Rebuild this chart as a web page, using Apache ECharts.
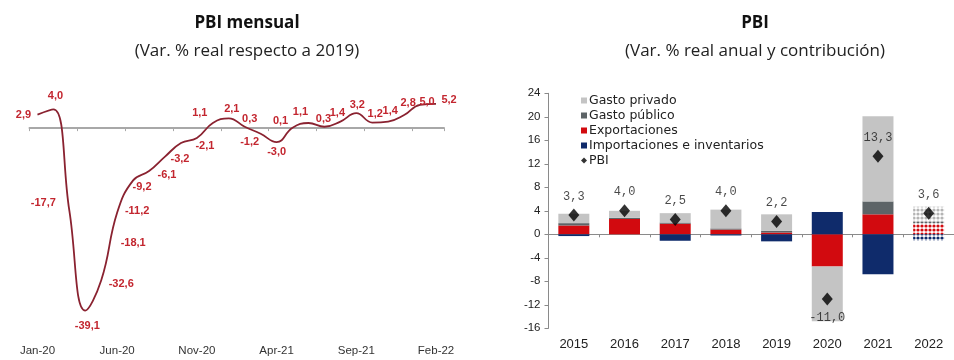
<!DOCTYPE html>
<html>
<head>
<meta charset="utf-8">
<script src="https://cdn.jsdelivr.net/npm/echarts@6/dist/echarts.min.js"></script>
<style>
  html, body { margin: 0; padding: 0; background: #fff; }
  #chart { width: 954px; height: 360px; }
</style>
</head>
<body>
<div id="chart"></div>
<script>
// ---- Monthly GDP, % change vs. same month of 2019 ----
const months = ['Jan-20','Feb-20','Mar-20','Apr-20','May-20','Jun-20','Jul-20','Aug-20','Sep-20','Oct-20','Nov-20','Dec-20',
                'Jan-21','Feb-21','Mar-21','Apr-21','May-21','Jun-21','Jul-21','Aug-21','Sep-21','Oct-21','Nov-21','Dec-21',
                'Jan-22','Feb-22'];
const pbiMensual = [2.9, 4.0, -17.7, -39.1, -32.6, -18.1, -11.2, -9.2, -6.1, -3.2, -2.1, 1.1,
                    2.1, 0.3, -1.2, -3.0, 0.1, 1.1, 0.3, 1.4, 3.2, 1.2, 1.4, 2.8,
                    5.0, 5.2];

// ---- Annual GDP and demand contributions ----
const years = ['2015','2016','2017','2018','2019','2020','2021','2022'];
const gastoPrivado   = [1.6, 1.2, 1.6, 3.2, 2.8, -9.3, 14.5, 2.6];
const gastoPublico   = [0.4, 0.2, 0.2, 0.2, 0.3, 0.0, 2.2, 0.3];
const exportaciones  = [1.5, 2.6, 1.8, 0.8, 0.3, -5.5, 3.4, 1.8];
const importaciones  = [-0.3, 0.0, -1.1, -0.2, -1.2, 3.8, -6.8, -1.1];
const pbiAnual       = [3.3, 4.0, 2.5, 4.0, 2.2, -11.0, 13.3, 3.6];
const yTicksRight = { min: -16, max: 24, step: 4 };
const projectedYear = '2022';

// Label placement for the monthly series (offset of each label from its point, px)
const labelOffsets = [[-14,0],[2,-13],[-26,-8],[2,15],[20,4],[16,30],[4,31],[-7,16],[2,18],[-1,16],[8,8],[-13,-10],
                      [3,-9],[5,-8],[-11,8],[0,10],[-12,-7],[-8,-11],[-1,-8],[-3,-9],[1,-8],[3,-9],[2,-11],[4,-12],
                      [7,-3],[13,-4]];

const fmt = v => v.toFixed(1).replace('.', ',');

// Dotted fill used for the projected year
function dotPattern(color) {
  const c = document.createElement('canvas');
  c.width = 4; c.height = 4;
  const g = c.getContext('2d');
  g.fillStyle = '#ffffff';
  g.fillRect(0, 0, 4, 4);
  g.fillStyle = color;
  g.beginPath();
  g.arc(2, 2, 1.6, 0, Math.PI * 2);
  g.fill();
  return { image: c, repeat: 'repeat' };
}

const COL = {
  privado: '#c4c4c4',
  publico: '#5d6467',
  export: '#d20a0f',
  import: '#0f2b6b',
  pbi: '#000000'
};

function barData(values, color) {
  return values.map((v, i) => years[i] === projectedYear
    ? { value: v, itemStyle: { color: dotPattern(color) } }
    : v);
}

const chart = echarts.init(document.getElementById('chart'), null, { renderer: 'canvas' });

const titleFont = '"Open Sans", "Noto Sans", sans-serif';

const option = {
  animation: false,
  backgroundColor: '#ffffff',
  graphic: [
    { type: 'text', x: 247, y: 23, style: { text: 'PBI mensual', font: 'bold 17px ' + titleFont, fill: '#111', align: 'center', verticalAlign: 'middle' } },
    { type: 'text', x: 247, y: 51, style: { text: '(Var. % real respecto a 2019)', font: '17px ' + titleFont, fill: '#222', align: 'center', verticalAlign: 'middle' } },
    { type: 'text', x: 755, y: 23, style: { text: 'PBI', font: 'bold 17px ' + titleFont, fill: '#111', align: 'center', verticalAlign: 'middle' } },
    { type: 'text', x: 755, y: 51, style: { text: '(Var. % real anual y contribución)', font: '17px ' + titleFont, fill: '#222', align: 'center', verticalAlign: 'middle' } }
  ],
  legend: {
    orient: 'vertical',
    left: 581,
    top: 93,
    itemWidth: 6,
    itemHeight: 6,
    itemGap: 0,
    padding: 0,
    textStyle: { fontFamily: '"DejaVu Sans", sans-serif', fontSize: 12.5, color: '#222', lineHeight: 15, padding: [0, 0, 0, -3] },
    data: [
      { name: 'Gasto privado', icon: 'rect' },
      { name: 'Gasto público', icon: 'rect' },
      { name: 'Exportaciones', icon: 'rect' },
      { name: 'Importaciones e inventarios', icon: 'rect' },
      { name: 'PBI', icon: 'diamond' }
    ]
  },
  grid: [
    { left: 29.5, right: 510, top: 90.8, bottom: 45.2, containLabel: false },
    { left: 548.5, right: -9.7, top: 93.3, bottom: 31.7, containLabel: false }
  ],
  xAxis: [
    { // month labels along the bottom
      type: 'category', gridIndex: 0, data: months, position: 'bottom', boundaryGap: true,
      axisLine: { show: false, onZero: false }, axisTick: { show: false },
      axisLabel: { interval: 4, margin: 30, color: '#333', fontSize: 11.5, fontFamily: '"Liberation Sans", Arial, sans-serif' }
    },
    { // zero line with ticks
      type: 'category', gridIndex: 0, data: months, position: 'top', boundaryGap: true,
      axisLine: { show: true, onZero: true, lineStyle: { color: '#a8a8a8', width: 2 } },
      axisTick: { show: true, inside: true, interval: 2, length: 3, lineStyle: { color: '#a8a8a8' } },
      axisLabel: { show: false }
    },
    { // year labels along the bottom
      type: 'category', gridIndex: 1, data: years, position: 'bottom', boundaryGap: true,
      axisLine: { show: false, onZero: false }, axisTick: { show: false },
      axisLabel: { margin: 10, color: '#222', fontSize: 13, fontFamily: '"Liberation Sans", Arial, sans-serif' }
    },
    { // zero line with ticks
      type: 'category', gridIndex: 1, data: years, position: 'top', boundaryGap: true,
      axisLine: { show: true, onZero: true, lineStyle: { color: '#8a8a8a', width: 1 } },
      axisTick: { show: true, inside: true, length: 3, lineStyle: { color: '#8a8a8a' } },
      axisLabel: { show: false }
    }
  ],
  yAxis: [
    { type: 'value', gridIndex: 0, min: -40, max: 8, show: false, splitLine: { show: false } },
    {
      type: 'value', gridIndex: 1, min: yTicksRight.min, max: yTicksRight.max, interval: yTicksRight.step,
      axisLine: { show: true, onZero: false, lineStyle: { color: '#8a8a8a' } },
      axisTick: { show: true, length: 4, lineStyle: { color: '#8a8a8a' } },
      splitLine: { show: false },
      axisLabel: { margin: 8, color: '#222', fontSize: 11.5, fontFamily: '"Liberation Sans", Arial, sans-serif' }
    }
  ],
  series: [
    {
      name: 'PBI mensual',
      type: 'line',
      xAxisIndex: 0, yAxisIndex: 0,
      smooth: 0.45,
      clip: false,
      symbol: 'circle',
      symbolSize: 1,
      itemStyle: { color: 'rgba(0,0,0,0)' },
      lineStyle: { color: '#8a2230', width: 1.8 },
      data: pbiMensual.map((v, i) => ({
        value: v,
        label: { offset: labelOffsets[i] }
      })),
      label: {
        show: true,
        position: 'inside',
        formatter: p => fmt(p.value),
        color: '#c3262f',
        fontSize: 11,
        fontWeight: 'bold',
        fontFamily: '"Liberation Sans", Arial, sans-serif'
      },
      emphasis: { disabled: true }
    },
    {
      name: 'Exportaciones', type: 'bar', stack: 'contrib', xAxisIndex: 2, yAxisIndex: 1,
      barWidth: 31, itemStyle: { color: COL.export }, data: barData(exportaciones, COL.export)
    },
    {
      name: 'Gasto público', type: 'bar', stack: 'contrib', xAxisIndex: 2, yAxisIndex: 1,
      barWidth: 31, itemStyle: { color: COL.publico }, data: barData(gastoPublico, COL.publico)
    },
    {
      name: 'Gasto privado', type: 'bar', stack: 'contrib', xAxisIndex: 2, yAxisIndex: 1,
      barWidth: 31, itemStyle: { color: COL.privado }, data: barData(gastoPrivado, '#b4b4b4')
    },
    {
      name: 'Importaciones e inventarios', type: 'bar', stack: 'contrib', xAxisIndex: 2, yAxisIndex: 1,
      barWidth: 31, itemStyle: { color: COL.import }, data: barData(importaciones, COL.import)
    },
    {
      name: 'PBI', type: 'scatter', xAxisIndex: 2, yAxisIndex: 1,
      symbol: 'diamond', symbolSize: [11, 13], z: 5,
      itemStyle: { color: COL.pbi },
      data: pbiAnual.map(v => ({
        value: v,
        label: { position: v < 0 ? 'bottom' : 'top' }
      })),
      label: {
        show: true,
        distance: 6,
        formatter: p => fmt(p.value),
        color: '#1a1a1a',
        fontSize: 12,
        fontFamily: '"Liberation Mono", "DejaVu Sans Mono", monospace'
      },
      emphasis: { disabled: true }
    }
  ]
};

chart.setOption(option);
</script>
</body>
</html>
